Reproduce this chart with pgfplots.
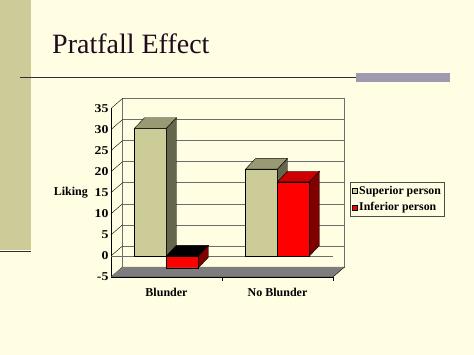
\documentclass[border=0pt]{standalone}
\usepackage{fontspec}
\setmainfont{Liberation Serif}
\usepackage{graphicx}
\usepackage{pgfplots}
\pgfplotsset{compat=1.18}
\definecolor{bg}{RGB}{255,254,226}
\definecolor{beige}{RGB}{205,203,152}
\definecolor{titlec}{RGB}{30,12,30}
\definecolor{rulec}{RGB}{60,40,60}
\definecolor{graybar}{RGB}{160,154,176}
\definecolor{supf}{RGB}{204,204,153}
\definecolor{supt}{RGB}{153,153,115}
\definecolor{sups}{RGB}{102,102,77}
\definecolor{inff}{RGB}{255,0,0}
\definecolor{inft}{RGB}{204,0,0}
\definecolor{infs}{RGB}{128,0,0}
\definecolor{gridc}{RGB}{110,110,110}
\definecolor{floorc}{RGB}{125,125,125}
\newcommand{\tl}[1]{\scalebox{1.15}[1]{#1}}
\begin{document}
\begin{tikzpicture}[x=1pt,y=1pt]
\fill[bg] (0,0) rectangle (474,355);
\useasboundingbox (0,0) rectangle (474,355);
\fill[beige] (0,105) rectangle (31,355);
\draw[rulec, line width=1.3pt] (0,103.5) -- (31,103.5);
\draw[rulec, line width=0.9pt] (20,277.5) -- (356,277.5);
\fill[graybar] (356,273) rectangle (450,281.7);
\node[anchor=base west, inner sep=0pt, font=\rmfamily\fontsize{28}{30}\selectfont, text=titlec] at (52,301) {Pratfall Effect};
\begin{axis}[
  at={(111pt,78pt)}, anchor=south west,
  scale only axis, width=222pt, height=168.5pt,
  xmin=0, xmax=2, ymin=-5, ymax=35,
  clip=false, no markers,
  axis lines=left, axis line style={-, black, line width=0.5pt},
  xtick={0.5,1.5}, xticklabels={Blunder,No Blunder},
  x tick style={draw=none},
  ytick={-5,0,5,10,15,20,25,30,35},
  yticklabels={\tl{-5},\tl{0},\tl{5},\tl{10},\tl{15},\tl{20},\tl{25},\tl{30},\tl{35}},
  y tick style={draw=none},
  major tick length=0pt,
  ticklabel style={font=\rmfamily\bfseries\fontsize{12}{14}\selectfont},
  xticklabel style={yshift=-8pt},
  yticklabel style={xshift=1pt},
  ylabel={Liking},
  ylabel style={rotate=-90, font=\rmfamily\bfseries\fontsize{12}{14}\selectfont},
  legend style={at={(1.0766,0.5638)}, anchor=north west, draw=gray!60!black, fill=bg,
    font=\rmfamily\bfseries\fontsize{11.8}{13}\selectfont, inner xsep=1.5pt, inner ysep=2pt, row sep=2.5pt,
    cells={anchor=west}},
  legend image code/.code={\draw[#1, draw=black, line width=0.3pt] (0pt,-2.6pt) rectangle (5.2pt,2.6pt);},
]
% back wall and grid
\draw[gridc, line width=0.5pt] ([shift={(11.5pt,10pt)}]axis cs:0,-5) rectangle ([shift={(11.5pt,10pt)}]axis cs:2,35);
\pgfplotsinvokeforeach{-5,0,5,10,15,20,25,30,35}{
  \draw[gridc, line width=0.5pt] ([shift={(11.5pt,10pt)}]axis cs:0,#1) -- ([shift={(11.5pt,10pt)}]axis cs:2,#1);
  \draw[black, line width=0.4pt] (axis cs:0,#1) -- ([shift={(11.5pt,10pt)}]axis cs:0,#1);
}
% floor
\fill[floorc] (axis cs:0,-5) -- (axis cs:2,-5) -- ([shift={(11.5pt,10pt)}]axis cs:2,-5) -- ([shift={(11.5pt,10pt)}]axis cs:0,-5) -- cycle;
\draw[black, line width=0.4pt] (axis cs:0,-5) -- (axis cs:2,-5) -- ([shift={(11.5pt,10pt)}]axis cs:2,-5);
% zero line and category ticks
\draw[gridc, line width=0.5pt] (axis cs:0,0) -- (axis cs:2,0);
\draw[black, line width=0.4pt] (axis cs:1,-5) -- ([yshift=-4pt]axis cs:1,-5);
\draw[black, line width=0.4pt] (axis cs:2,-5) -- ([yshift=-4pt]axis cs:2,-5);
% Superior person
\addplot[ybar, bar width=32pt, bar shift=-16pt, fill=supf, draw=black, line width=0.4pt]
  coordinates {(0.5,30.3) (1.5,20.6)};
\addlegendentry{Superior person}
\addplot[forget plot, fill=supt, draw=black, line width=0.4pt] coordinates {(0.2117,30.3) (0.5,30.3) (0.59,32.8) (0.3017,32.8) (0.2117,30.3)};
\addplot[forget plot, fill=sups, draw=black, line width=0.4pt] coordinates {(0.5,0) (0.5,30.3) (0.59,32.8) (0.59,2.5) (0.5,0)};
\addplot[forget plot, fill=supt, draw=black, line width=0.4pt] coordinates {(1.2117,20.6) (1.5,20.6) (1.59,23.1) (1.3017,23.1) (1.2117,20.6)};
\addplot[forget plot, fill=sups, draw=black, line width=0.4pt] coordinates {(1.5,0) (1.5,20.6) (1.59,23.1) (1.59,2.5) (1.5,0)};
% Inferior person
\addplot[ybar, bar width=32pt, bar shift=16pt, fill=inff, draw=black, line width=0.4pt]
  coordinates {(0.5,-2.8) (1.5,17.6)};
\addlegendentry{Inferior person}
\addplot[forget plot, fill=black, draw=black, line width=0.4pt] coordinates {(0.5,0) (0.7883,0) (0.8783,2.5) (0.59,2.5) (0.5,0)};
\addplot[forget plot, fill=infs, draw=black, line width=0.4pt] coordinates {(0.7883,-2.8) (0.7883,0) (0.8783,2.5) (0.8783,-0.3) (0.7883,-2.8)};
\addplot[forget plot, fill=inft, draw=black, line width=0.4pt] coordinates {(1.5,17.6) (1.7883,17.6) (1.8783,20.1) (1.59,20.1) (1.5,17.6)};
\addplot[forget plot, fill=infs, draw=black, line width=0.4pt] coordinates {(1.7883,0) (1.7883,17.6) (1.8783,20.1) (1.8783,2.5) (1.7883,0)};
\end{axis}
\end{tikzpicture}
\end{document}
